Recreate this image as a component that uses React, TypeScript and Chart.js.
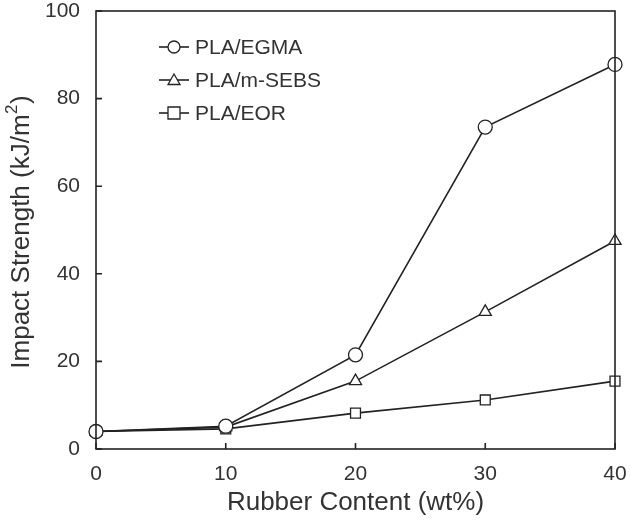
import React, { useEffect, useRef } from "react";
import { Chart, registerables } from "chart.js";
Chart.register(...registerables);

const xValues = [0, 10, 20, 30, 40];
const egma = [4, 5.2, 21.5, 73.5, 87.8];
const msebs = [4, 5.0, 15.5, 31.3, 47.5];
const eor = [4, 4.6, 8.2, 11.2, 15.5];
const seriesNames = ["PLA/EGMA", "PLA/m-SEBS", "PLA/EOR"];
const markers = ["circle", "triangle", "rect"];
const xTicks = [0, 10, 20, 30, 40];
const yTicks = [0, 20, 40, 60, 80, 100];
const yTitleMain = "Impact Strength (kJ/m";
const yTitleSup = "2";
const yTitleEnd = ")";

const LINE = "#222";
const TEXT = "#333";
const FAMILY = "Arial, 'Liberation Sans', sans-serif";

const framePlugin = {
  id: "frame",
  afterDatasetsDraw(chart: any) {
    const { ctx, chartArea: a, scales } = chart;
    ctx.save();
    ctx.strokeStyle = LINE;
    ctx.lineWidth = 1.6;
    ctx.strokeRect(a.left, a.top, a.right - a.left, a.bottom - a.top);
    ctx.beginPath();
    for (const v of yTicks) {
      const y = scales.y.getPixelForValue(v);
      ctx.moveTo(a.left, y);
      ctx.lineTo(a.left + 6, y);
    }
    for (const v of xTicks) {
      const x = scales.x.getPixelForValue(v);
      ctx.moveTo(x, a.bottom);
      ctx.lineTo(x, a.bottom - 6);
    }
    ctx.stroke();
    // legend
    const lx = a.left + 63;
    const ly0 = a.top + 36;
    ctx.font = "21px " + FAMILY;
    ctx.textBaseline = "middle";
    seriesNames.forEach((name, i) => {
      const y = ly0 + i * 33;
      ctx.beginPath();
      ctx.strokeStyle = LINE;
      ctx.lineWidth = 1.6;
      ctx.moveTo(lx, y);
      ctx.lineTo(lx + 30, y);
      ctx.stroke();
      ctx.fillStyle = "#fff";
      ctx.beginPath();
      const cx = lx + 15;
      const r = 6;
      if (markers[i] === "circle") {
        ctx.arc(cx, y, r, 0, Math.PI * 2);
      } else if (markers[i] === "triangle") {
        ctx.moveTo(cx, y - r);
        ctx.lineTo(cx + r, y + r * 0.75);
        ctx.lineTo(cx - r, y + r * 0.75);
        ctx.closePath();
      } else {
        ctx.rect(cx - r, y - r, 2 * r, 2 * r);
      }
      ctx.fill();
      ctx.lineWidth = 1.3;
      ctx.stroke();
      ctx.fillStyle = TEXT;
      ctx.fillText(name, lx + 36, y + 1);
    });
    ctx.restore();

    // y-axis title with superscript
    ctx.save();
    ctx.fillStyle = TEXT;
    ctx.textBaseline = "alphabetic";
    ctx.textAlign = "left";
    const mainFont = "26px " + FAMILY;
    const supFont = "17px " + FAMILY;
    ctx.font = mainFont;
    const w1 = ctx.measureText(yTitleMain).width;
    const w3 = ctx.measureText(yTitleEnd).width;
    ctx.font = supFont;
    const w2 = ctx.measureText(yTitleSup).width + 1;
    const total = w1 + w2 + w3;
    const cy = (a.top + a.bottom) / 2 + 2;
    ctx.translate(29, cy);
    ctx.rotate(-Math.PI / 2);
    let x = -total / 2;
    ctx.font = mainFont;
    ctx.fillText(yTitleMain, x, 0);
    x += w1;
    ctx.font = supFont;
    ctx.fillText(yTitleSup, x + 0.5, -12);
    x += w2;
    ctx.font = mainFont;
    ctx.fillText(yTitleEnd, x, 0);
    ctx.restore();
  },
};

export default function App() {
  const ref = useRef<HTMLCanvasElement>(null);
  useEffect(() => {
    document.body.style.margin = "0";
    const ds = [egma, msebs, eor].map((vals, i) => ({
      label: seriesNames[i],
      data: xValues.map((x, j) => ({ x, y: vals[j] })),
      borderColor: LINE,
      borderWidth: 1.6,
      backgroundColor: "#fff",
      pointStyle: markers[i],
      pointRadius: 7,
      pointBorderWidth: 1.3,
      pointBackgroundColor: "#fff",
      pointBorderColor: LINE,
      tension: 0,
      clip: false,
    }));
    const chart = new Chart(ref.current!, {
      type: "line",
      data: { datasets: ds as any },
      plugins: [framePlugin],
      options: {
        animation: false,
        responsive: false,
        layout: { padding: { top: 11, right: 15, left: 0, bottom: 0 } },
        plugins: { legend: { display: false }, tooltip: { enabled: false } },
        scales: {
          x: {
            type: "linear",
            min: 0,
            max: 40,
            afterBuildTicks: (s: any) => { s.ticks = xTicks.map((v) => ({ value: v })); },
            afterFit: (s: any) => { s.height = 72; s.paddingLeft = 0; s.paddingRight = 0; },
            grid: { display: false, drawTicks: false },
            border: { display: false },
            ticks: { color: TEXT, font: { size: 21, family: FAMILY }, padding: 13 },
            title: { display: true, text: "Rubber Content (wt%)", color: TEXT, font: { size: 26, family: FAMILY }, padding: { top: 0, bottom: 3 } },
          },
          y: {
            type: "linear",
            min: 0,
            max: 100,
            afterBuildTicks: (s: any) => { s.ticks = yTicks.map((v) => ({ value: v })); },
            afterFit: (s: any) => { s.width = 96; s.paddingTop = 0; s.paddingBottom = 0; },
            grid: { display: false, drawTicks: false },
            border: { display: false },
            ticks: { color: TEXT, font: { size: 21, family: FAMILY }, padding: 16 },
            title: { display: false },
          },
        },
      },
    });
    return () => chart.destroy();
  }, []);
  return (
    <div style={{ position: "absolute", left: 0, top: 0, width: 630, height: 521, background: "#fff" }}>
      <canvas ref={ref} width={630} height={521} />
    </div>
  );
}
